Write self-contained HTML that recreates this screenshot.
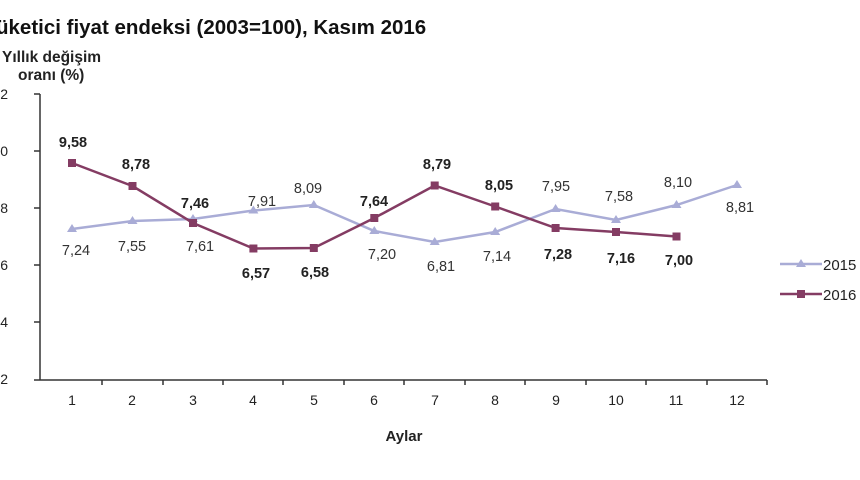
<!DOCTYPE html><html><head><meta charset="utf-8"><style>body{margin:0;background:#fff}svg{display:block;font-family:"Liberation Sans",sans-serif}</style></head><body>
<svg width="860" height="480" viewBox="0 0 860 480">
<text x="-4" y="34" font-size="20.5" font-weight="bold" fill="#111">üketici fiyat endeksi (2003=100), Kasım 2016</text>
<text x="2" y="62" font-size="15.5" font-weight="bold" fill="#222">Yıllık değişim</text>
<text x="18" y="80" font-size="15.5" font-weight="bold" fill="#222">oranı (%)</text>
<g stroke="#333" stroke-width="1.5" fill="none">
<line x1="40" y1="94" x2="40" y2="380"/><line x1="40" y1="380" x2="767" y2="380"/>
<path d="M34 94H40M34 151H40M34 208H40M34 265H40M34 322H40M34 380H40"/>
<path d="M102 380v5M163 380v5M223 380v5M283 380v5M344 380v5M404 380v5M465 380v5M525 380v5M586 380v5M646 380v5M707 380v5M767 380v5"/>
</g>
<g font-size="14" fill="#222" text-anchor="end"><text x="8" y="99">2</text><text x="8" y="156">0</text><text x="8" y="213">8</text><text x="8" y="270">6</text><text x="8" y="327">4</text><text x="8" y="384">2</text></g>
<g font-size="14" fill="#222" text-anchor="middle"><text x="72" y="405">1</text><text x="132" y="405">2</text><text x="193" y="405">3</text><text x="253" y="405">4</text><text x="314" y="405">5</text><text x="374" y="405">6</text><text x="435" y="405">7</text><text x="495" y="405">8</text><text x="556" y="405">9</text><text x="616" y="405">10</text><text x="676" y="405">11</text><text x="737" y="405">12</text>
<text x="404" y="441" font-weight="bold" font-size="15">Aylar</text></g>
<polyline fill="none" stroke="#a9acd6" stroke-width="2.5" points="72,229 132.5,221 193,219 253.4,210.5 313.8,205 374.3,231 434.7,242 495.2,232 555.6,209 616,220 676.5,205 737,185"/>
<g fill="#a9acd6"><path d="M72,224l5,8h-10zM132.5,216l5,8h-10zM193,214l5,8h-10zM253.4,205.5l5,8h-10zM313.8,200l5,8h-10zM374.3,226l5,8h-10zM434.7,237l5,8h-10zM495.2,227l5,8h-10zM555.6,204l5,8h-10zM616,215l5,8h-10zM676.5,200l5,8h-10zM737,180l5,8h-10z"/></g>
<polyline fill="none" stroke="#843c63" stroke-width="2.5" points="72,163 132.5,186 193,223 253.4,248.5 313.8,248 374.3,218 434.7,185.5 495.2,206.5 555.6,228 616,232 676.5,236.5"/>
<g fill="#843c63"><rect x="68" y="159" width="8" height="8"/><rect x="128.5" y="182" width="8" height="8"/><rect x="189" y="219" width="8" height="8"/><rect x="249.4" y="244.5" width="8" height="8"/><rect x="309.8" y="244" width="8" height="8"/><rect x="370.3" y="214" width="8" height="8"/><rect x="430.7" y="181.5" width="8" height="8"/><rect x="491.2" y="202.5" width="8" height="8"/><rect x="551.6" y="224" width="8" height="8"/><rect x="612" y="228" width="8" height="8"/><rect x="672.5" y="232.5" width="8" height="8"/></g>
<g font-size="14.5" fill="#333" text-anchor="middle"><text x="76" y="255">7,24</text><text x="132" y="251">7,55</text><text x="200" y="251">7,61</text><text x="262" y="206">7,91</text><text x="308" y="193">8,09</text><text x="382" y="259">7,20</text><text x="441" y="271">6,81</text><text x="497" y="261">7,14</text><text x="556" y="191">7,95</text><text x="619" y="201">7,58</text><text x="678" y="187">8,10</text><text x="740" y="212">8,81</text></g>
<g font-size="14.5" font-weight="bold" fill="#222" text-anchor="middle"><text x="73" y="147">9,58</text><text x="136" y="169">8,78</text><text x="195" y="208">7,46</text><text x="256" y="278">6,57</text><text x="315" y="277">6,58</text><text x="374" y="206">7,64</text><text x="437" y="169">8,79</text><text x="499" y="190">8,05</text><text x="558" y="259">7,28</text><text x="621" y="263">7,16</text><text x="679" y="265">7,00</text></g>
<line x1="780" y1="264" x2="822" y2="264" stroke="#a9acd6" stroke-width="2.5"/><path d="M801,259l5,8h-10z" fill="#a9acd6"/>
<text x="823" y="270" font-size="15" fill="#222">2015</text>
<line x1="780" y1="294" x2="822" y2="294" stroke="#843c63" stroke-width="2.5"/><rect x="797" y="290" width="8" height="8" fill="#843c63"/>
<text x="823" y="300" font-size="15" fill="#222">2016</text>
</svg></body></html>
